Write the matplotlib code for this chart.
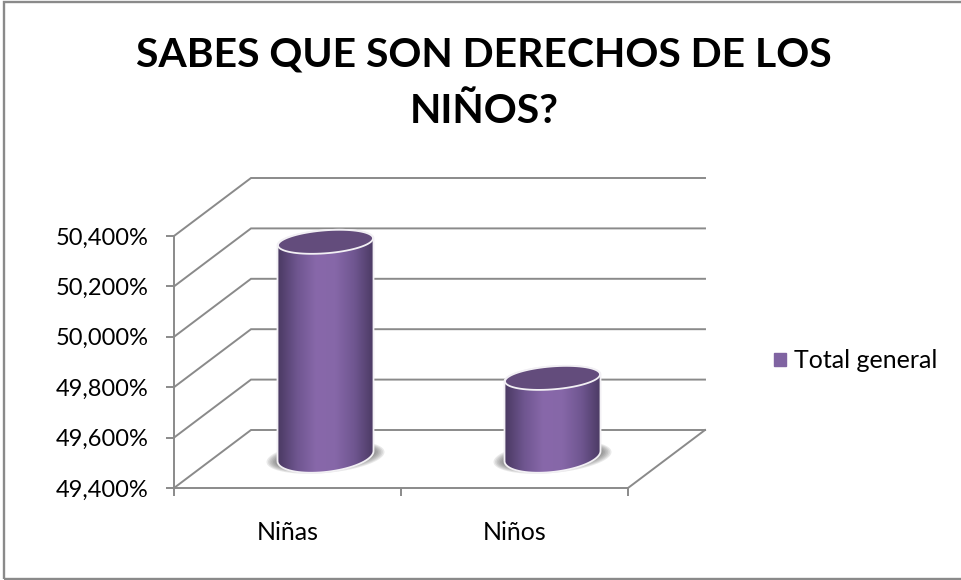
import numpy as np
import matplotlib
matplotlib.use('Agg')
import matplotlib.pyplot as plt
from matplotlib.colors import LinearSegmentedColormap
from matplotlib.patches import Patch, PathPatch, Rectangle
from matplotlib.path import Path

plt.rcParams['font.family'] = ['Lato', 'DejaVu Sans']

title = 'SABES QUE SON DERECHOS DE LOS\nNIÑOS?'
categories = ['Niñas', 'Niños']
values = [50.25, 49.71]
series_name = 'Total general'
y_ticks = [49.4, 49.6, 49.8, 50.0, 50.2, 50.4]
y_labels = ['49,400%', '49,600%', '49,800%', '50,000%', '50,200%', '50,400%']

W, H = 962, 580
GREY = '#8a8a8a'
PURPLE = '#8064a2'

fig = plt.figure(figsize=(W / 100, H / 100), dpi=100)
ax = fig.add_axes([174 / W, 1 - 488 / H, 454 / W, 252 / H])
ax.set_xlim(0, 2)
ax.set_ylim(49.4, 50.4)

# size of one pixel in data units
px = 2 / 454
py = 1 / 252
depth_x = 77 * px
depth_y = 58 * py

# walls, floor
for v in y_ticks:
    ax.plot([0, depth_x, 2 + depth_x], [v, v + depth_y, v + depth_y], color=GREY, lw=1.4,
            clip_on=False, zorder=1, solid_joinstyle='miter')
ax.plot([2, 2 + depth_x], [y_ticks[0], y_ticks[0] + depth_y], color=GREY, lw=1.4, clip_on=False, zorder=1)


def ellipse(cx, cy, a, b, s, n=80):
    # tilted ellipse, rises to the right
    t = np.linspace(0, 2 * np.pi, n)
    return cx + a * np.cos(t) * px, cy + (b * np.sin(t) + s * np.cos(t)) * py


cmap = LinearSegmentedColormap.from_list('cyl', ['#4b3a63', '#6f5690', '#8868aa', '#8667a8', '#6f5690', '#4b3a63'])
base_y = y_ticks[0] + 32 * py

for i, v in enumerate(values):
    cx = i + 0.5 + 38 * px
    top_y = v + 32 * py

    # soft shadow under the base
    for k in range(6):
        xs, ys = ellipse(cx, base_y - 1 * py, 59 - k * 1.6, 16 - k * 0.9, 5)
        ax.fill(xs, ys, color='#555555', alpha=0.13, lw=0, clip_on=False, zorder=2)

    # body outline: lower half of base + upper half of top
    t = np.linspace(np.pi, 2 * np.pi, 40)
    bx = cx + 48 * np.cos(t) * px
    by = base_y + (16 * np.sin(t) + 5 * np.cos(t)) * py
    tx = cx + 48 * np.cos(t[::-1]) * px
    ty = top_y + (-11.5 * np.sin(t[::-1]) + 3.5 * np.cos(t[::-1])) * py
    outline = np.column_stack([np.r_[bx, tx, bx[0]], np.r_[by, ty, by[0]]])
    ax.add_patch(PathPatch(Path(outline), facecolor='none', edgecolor='#f2f0f4', lw=1.3,
                           clip_on=False, zorder=4))
    im = ax.imshow(np.linspace(0, 1, 200).reshape(1, -1), cmap=cmap, aspect='auto', zorder=3,
                   extent=[cx - 48 * px, cx + 48 * px, base_y - 20 * py, top_y + 15 * py])
    im.set_clip_path(PathPatch(Path(outline), transform=ax.transData))

    xs, ys = ellipse(cx, top_y, 47.5, 11.5, 3.5)
    ax.fill(xs, ys, facecolor='#634c7c', edgecolor='#f2f0f4', lw=1.3, clip_on=False, zorder=5)

ax.set_xlim(0, 2)
ax.set_ylim(49.4, 50.4)

for side in ['top', 'right']:
    ax.spines[side].set_visible(False)
for side in ['left', 'bottom']:
    ax.spines[side].set_color(GREY)
    ax.spines[side].set_linewidth(1.4)

ax.set_yticks(y_ticks)
ax.set_yticklabels(y_labels, fontsize=17, color='black')
ax.set_xticks([0, 1, 2])
ax.set_xticklabels([])
ax.set_xticks([0.5, 1.5], minor=True)
ax.set_xticklabels(categories, minor=True, fontsize=18, color='black')
ax.tick_params(axis='y', length=6, width=1.4, color=GREY, pad=12)
ax.tick_params(axis='x', which='major', length=6, width=1.4, color=GREY)
ax.tick_params(axis='x', which='minor', length=0, pad=24)
ax.patch.set_visible(False)

ax.legend(handles=[Patch(color=PURPLE, label=series_name)], loc='center left', frameon=False,
          bbox_to_anchor=(774 / W, 1 - 361 / H), bbox_transform=fig.transFigure,
          fontsize=18, handlelength=0.5, handleheight=0.46, handletextpad=0.32,
          borderpad=0, borderaxespad=0)

fig.text(484 / W, 1 - 83 / H, title, ha='center', va='center', fontsize=29.4, fontweight='bold',
         color='black', linespacing=1.66)

fig.add_artist(Rectangle((4 / W, 1 - 579 / H), 965 / W, 577 / H, transform=fig.transFigure,
                         facecolor='none', edgecolor=GREY, lw=1.7))

fig.savefig('out.png', dpi=100)
